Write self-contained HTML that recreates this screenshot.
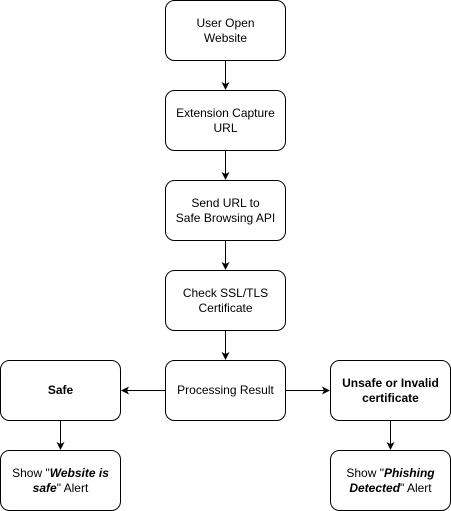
<!DOCTYPE html>
<html><head><style>
body{margin:0;background:#fff;}
svg{display:block;}
text{font-family:"Liberation Sans",Arial,sans-serif;font-size:12px;fill:#000;}
</style></head><body>
<svg width="451" height="511" viewBox="0 0 451 511" xmlns="http://www.w3.org/2000/svg">
<defs><marker id="a" markerWidth="8" markerHeight="8" refX="7" refY="4" orient="auto" markerUnits="userSpaceOnUse"><path d="M0,0 L8,4 L0,8 L2,4 Z" fill="#000"/></marker></defs>
<g fill="#fff" stroke="#000" stroke-width="1">
<rect x="165.5" y="0.5" width="120" height="60" rx="9"/>
<rect x="165.5" y="90.5" width="120" height="60" rx="9"/>
<rect x="165.5" y="180.5" width="120" height="60" rx="9"/>
<rect x="165.5" y="270.5" width="120" height="60" rx="9"/>
<rect x="165.5" y="360.5" width="120" height="60" rx="9"/>
<rect x="0.5" y="360.5" width="120" height="60" rx="9"/>
<rect x="330.5" y="360.5" width="120" height="60" rx="9"/>
<rect x="0.5" y="450.5" width="120" height="60" rx="9"/>
<rect x="330.5" y="450.5" width="120" height="60" rx="9"/>
</g>
<g stroke="#000" stroke-width="1" fill="none">
<line x1="225.5" y1="61" x2="225.5" y2="89" marker-end="url(#a)"/>
<line x1="225.5" y1="151" x2="225.5" y2="179" marker-end="url(#a)"/>
<line x1="225.5" y1="241" x2="225.5" y2="269" marker-end="url(#a)"/>
<line x1="225.5" y1="331" x2="225.5" y2="359" marker-end="url(#a)"/>
<line x1="165" y1="390.5" x2="122" y2="390.5" marker-end="url(#a)"/>
<line x1="286" y1="390.5" x2="329" y2="390.5" marker-end="url(#a)"/>
<line x1="60.5" y1="421" x2="60.5" y2="449" marker-end="url(#a)"/>
<line x1="390.5" y1="421" x2="390.5" y2="449" marker-end="url(#a)"/>
</g>
<g text-anchor="middle">
<text x="225.5" y="27">User Open</text><text x="225.5" y="42">Website</text>
<text x="225.5" y="117">Extension Capture</text><text x="225.5" y="132">URL</text>
<text x="225.5" y="207">Send URL to</text><text x="225.5" y="222">Safe Browsing API</text>
<text x="225.5" y="297">Check SSL/TLS</text><text x="225.5" y="312">Certificate</text>
<text x="225.5" y="394">Processing Result</text>
<text x="60.5" y="394" font-weight="bold">Safe</text>
<text x="390.5" y="387" font-weight="bold">Unsafe or Invalid</text><text x="390.5" y="402" font-weight="bold">certificate</text>
<text x="60.5" y="477">Show "<tspan font-weight="bold" font-style="italic">Website is</tspan></text>
<text x="60.5" y="492"><tspan font-weight="bold" font-style="italic">safe</tspan>" Alert</text>
<text x="390.5" y="477">Show "<tspan font-weight="bold" font-style="italic">Phishing</tspan></text>
<text x="390.5" y="492"><tspan font-weight="bold" font-style="italic">Detected</tspan>" Alert</text>
</g>
</svg>
</body></html>
